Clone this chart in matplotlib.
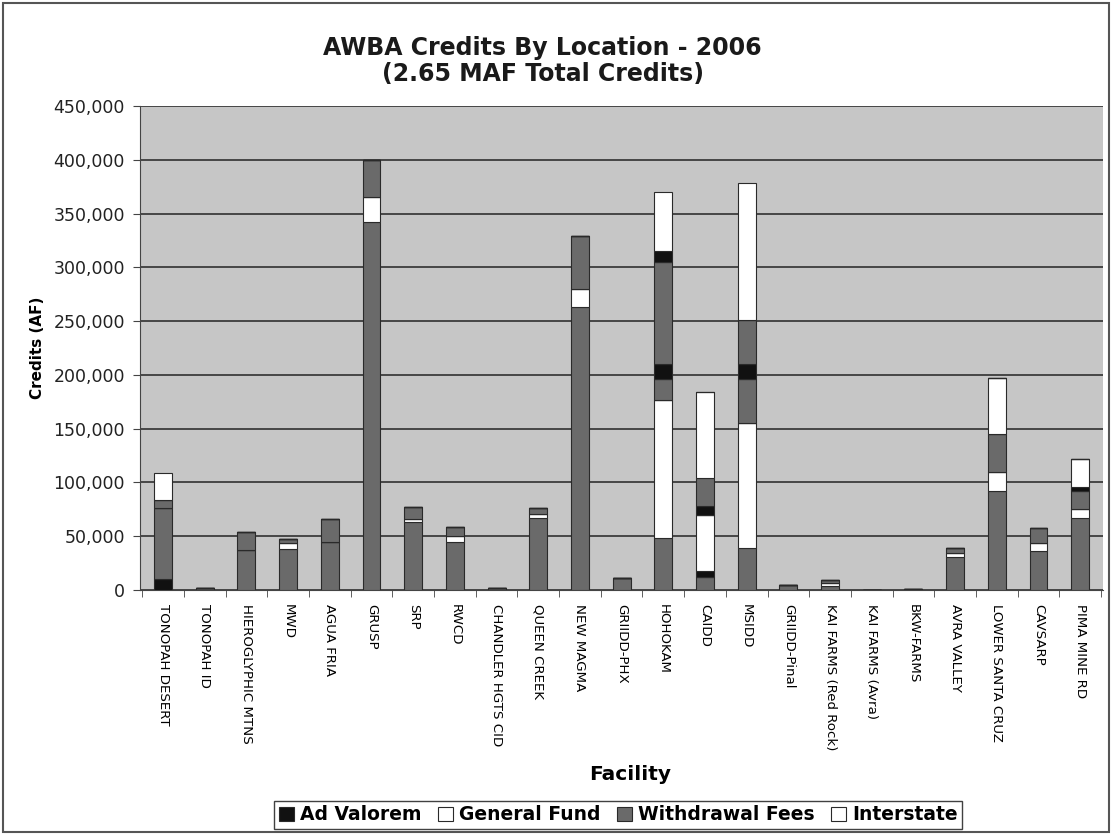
import numpy as np
import matplotlib.pyplot as plt
from matplotlib.patches import Rectangle
from matplotlib.ticker import FuncFormatter, MultipleLocator

facilities = ["TONOPAH DESERT", "TONOPAH ID", "HIEROGLYPHIC MTNS", "MWD", "AGUA FRIA",
              "GRUSP", "SRP", "RWCD", "CHANDLER HGTS CID", "QUEEN CREEK", "NEW MAGMA",
              "GRIIDD-PHX", "HOHOKAM", "CAIDD", "MSIDD", "GRIIDD-Pinal",
              "KAI FARMS (Red Rock)", "KAI FARMS (Avra)", "BKW-FARMS", "AVRA VALLEY",
              "LOWER SANTA CRUZ", "CAVSARP", "PIMA MINE RD"]

# credits (AF) stacked in three passes, one list per pass
withdrawal_fees = [
    [0, 2000, 37000, 38000, 45000, 342000, 63000, 45000, 2000, 66500, 263000, 11000,
     48000, 12000, 39000, 4500, 3700, 0, 1000, 31000, 92000, 36500, 66600],
    [66000, 0, 17000, 3000, 21000, 35000, 11000, 9000, 0, 5000, 49000, 0,
     19000, 0, 41000, 0, 3000, 0, 0, 5500, 35000, 14000, 17000],
    [8000, 0, 0, 0, 0, 0, 0, 0, 0, 0, 0, 0,
     95000, 26000, 41000, 0, 0, 0, 0, 0, 0, 0, 0],
]
general_fund = [
    [0, 0, 0, 6000, 0, 23000, 3000, 5000, 0, 4500, 17000, 0,
     129000, 0, 116000, 0, 2500, 0, 0, 3000, 18000, 7500, 8700],
    [0] * 23,
    [0, 0, 0, 0, 0, 0, 0, 0, 0, 0, 0, 0,
     0, 80000, 0, 0, 0, 0, 0, 0, 0, 0, 0],
]
ad_valorem = [
    [10000, 0, 0, 0, 0, 0, 0, 0, 0, 0, 0, 0,
     0, 6000, 0, 0, 0, 0, 0, 0, 0, 0, 0],
    [0, 0, 0, 0, 0, 0, 0, 0, 0, 0, 0, 0,
     14000, 8000, 14000, 0, 0, 0, 0, 0, 0, 0, 3700],
    [0, 0, 0, 0, 0, 0, 0, 0, 0, 0, 0, 0,
     10000, 0, 0, 0, 0, 0, 0, 0, 0, 0, 0],
]
interstate = [
    [0, 0, 0, 0, 0, 0, 0, 0, 0, 0, 0, 0,
     0, 52000, 0, 0, 0, 0, 0, 0, 0, 0, 0],
    [0, 0, 0, 0, 0, 0, 0, 0, 0, 0, 0, 0,
     0, 0, 0, 0, 0, 0, 0, 0, 52000, 0, 26000],
    [25000, 0, 0, 0, 0, 0, 0, 0, 0, 0, 0, 0,
     55000, 0, 127000, 0, 0, 0, 0, 0, 0, 0, 0],
]

series = [("Withdrawal Fees", withdrawal_fees, "#6a6a6a"),
          ("General Fund", general_fund, "#ffffff"),
          ("Ad Valorem", ad_valorem, "#111111"),
          ("Interstate", interstate, "#ffffff")]

fig = plt.figure(figsize=(11.12, 8.35), dpi=100)
ax = fig.add_axes([0.126, 0.2934, 0.866, 0.5796])
ax.set_facecolor("#c6c6c6")

x = np.arange(len(facilities))
bottom = np.zeros(len(facilities))
handles = {}
for p in range(3):
    for name, data, color in series:
        vals = np.array(data[p], dtype=float)
        bars = ax.bar(x, vals, width=0.43, bottom=bottom, color=color,
                      edgecolor="#2a2a2a", linewidth=0.8, zorder=3)
        handles.setdefault(name, bars)
        bottom += vals

ax.set_ylim(0, 450000)
ax.set_xlim(-0.55, len(facilities) - 0.45)
ax.yaxis.set_major_locator(MultipleLocator(50000))
ax.yaxis.set_major_formatter(FuncFormatter(lambda v, _: f"{int(v):,}"))
ax.grid(axis="y", color="#3c3c3c", linewidth=1.3, zorder=1)
ax.set_axisbelow(True)

ax.set_xticks(x)
ax.set_xticklabels(facilities, rotation=-90, fontsize=9.6, va="top", ha="center")
ax.set_xticks(np.arange(len(facilities) + 1) - 0.5, minor=True)
ax.tick_params(axis="x", which="major", length=0, pad=10)
ax.tick_params(axis="x", which="minor", length=5, color="#444")
ax.tick_params(axis="y", labelsize=12.5, length=5, color="#444", pad=6)
for lbl in ax.get_yticklabels():
    lbl.set_color("#222")

for s in ["top", "right"]:
    ax.spines[s].set_visible(False)
ax.spines["left"].set_color("#444")
ax.spines["bottom"].set_color("#444")

ax.set_ylabel("Credits (AF)", fontsize=11, fontweight="bold", labelpad=6)
fig.text(0.567, 0.072, "Facility", fontsize=14.5, fontweight="bold", ha="center", va="center")
fig.text(0.488, 0.927, "AWBA Credits By Location - 2006\n(2.65 MAF Total Credits)",
         fontsize=17, fontweight="bold", ha="center", va="center", linespacing=1.15,
         color="#1a1a1a")

order = ["Ad Valorem", "General Fund", "Withdrawal Fees", "Interstate"]
leg = fig.legend([handles[n] for n in order], order, loc="center", ncol=4,
                 bbox_to_anchor=(0.556, 0.024), frameon=True, fancybox=False,
                 edgecolor="#111", handlelength=0.8, handleheight=0.8,
                 handletextpad=0.3, columnspacing=0.9, borderpad=0.25,
                 prop={"weight": "bold", "size": 13.5})
leg.get_frame().set_linewidth(1.0)

fig.patches.append(Rectangle((0.003, 0.003), 0.994, 0.994, transform=fig.transFigure,
                             fill=False, edgecolor="#555", linewidth=1.5))

fig.savefig("out.png", dpi=100)
